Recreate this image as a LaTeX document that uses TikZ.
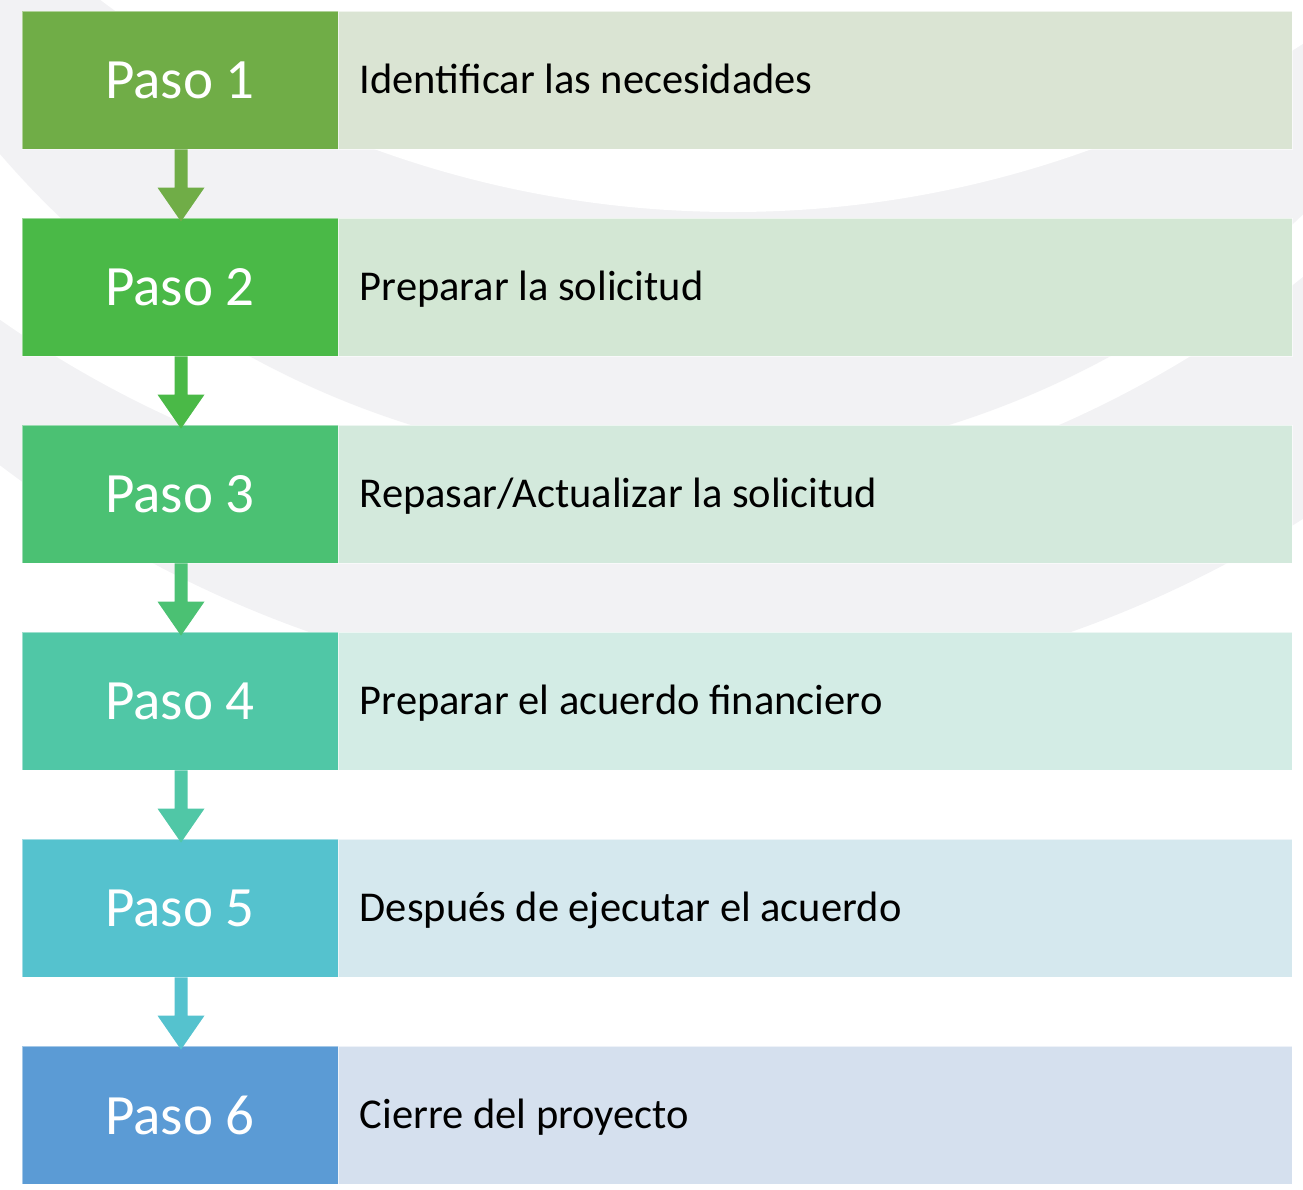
\documentclass[tikz,border=0pt]{standalone}
\usepackage{fontspec}
\setmainfont{Carlito}
\usetikzlibrary{calc}
\definecolor{bggrey}{RGB}{242,242,244}
\definecolor{c1}{RGB}{112,173,71}
\definecolor{c2}{RGB}{74,185,71}
\definecolor{c3}{RGB}{75,193,115}
\definecolor{c4}{RGB}{80,199,166}
\definecolor{c5}{RGB}{85,194,206}
\definecolor{c6}{RGB}{91,155,213}
\definecolor{r1}{RGB}{218,228,211}
\definecolor{r2}{RGB}{211,231,212}
\definecolor{r3}{RGB}{211,233,220}
\definecolor{r4}{RGB}{211,236,229}
\definecolor{r5}{RGB}{213,232,238}
\definecolor{r6}{RGB}{213,224,238}
\tikzset{
  stepbox/.style={rectangle, minimum width=316pt, minimum height=138pt, inner sep=0pt,
    text=white, font=\fontsize{57}{60}\selectfont, draw=white, draw opacity=0.45, line width=0.8pt},
  descbox/.style={rectangle, minimum width=954pt, minimum height=138pt, inner sep=0pt,
    draw=white, draw opacity=0.6, line width=0.8pt},
  desctext/.style={anchor=base west, inner sep=0pt, text=black,
    font=\fontsize{42.5}{46}\selectfont},
}
\begin{document}
\begin{tikzpicture}[x=1pt,y=-1pt]
\useasboundingbox (0,0) rectangle (1303,1189);
% faint watermark background
\begin{scope}
  \clip (0,0) rectangle (1303,1189);
  \fill[bggrey] (690,-446) circle[radius=1143pt];
  \fill[white] (623,-570) circle[radius=1086pt];
  \fill[bggrey] (680,-431) circle[radius=897pt];
  \fill[white] (733,-837) circle[radius=1049pt];
\end{scope}
% boxes
\node[stepbox, fill=c1] (p1) at (180,80) {Paso 1};
\node[descbox, fill=r1] (d1) at (815,80) {};
\node[stepbox, fill=c2] (p2) at (180,287) {Paso 2};
\node[descbox, fill=r2] (d2) at (815,287) {};
\node[stepbox, fill=c3] (p3) at (180,494) {Paso 3};
\node[descbox, fill=r3] (d3) at (815,494) {};
\node[stepbox, fill=c4] (p4) at (180,701) {Paso 4};
\node[descbox, fill=r4] (d4) at (815,701) {};
\node[stepbox, fill=c5] (p5) at (180,908) {Paso 5};
\node[descbox, fill=r5] (d5) at (815,908) {};
\node[stepbox, fill=c6] (p6) at (180,1115) {Paso 6};
\node[descbox, fill=r6] (d6) at (815,1115) {};
% arrows
\foreach \a/\b/\c in {p1/p2/c1, p2/p3/c2, p3/p4/c3, p4/p5/c4, p5/p6/c5}{
  \fill[\c] ($(\a.south)+(-5.5,0)$) -- ($(\a.south)+(7.5,0)$)
    -- ($(\b.north)+(7.5,-30)$) -- ($(\b.north)+(24.5,-30)$)
    -- ($(\b.north)+(1,4)$) -- ($(\b.north)+(-22.5,-30)$)
    -- ($(\b.north)+(-5.5,-30)$) -- cycle;
}
% descriptions
\node[desctext] (t1) at ($(d1.west)+(22,13.5)$) {Identificar las necesidades};
\node[desctext] (t2) at ($(d2.west)+(22,13.5)$) {Preparar la solicitud};
\node[desctext] (t3) at ($(d3.west)+(22,13.5)$) {Repasar/Actualizar la solicitud};
\node[desctext] (t4) at ($(d4.west)+(22,13.5)$) {Preparar el acuerdo financiero};
\node[desctext] (t5) at ($(d5.west)+(22,13.5)$) {Después de ejecutar el acuerdo};
\node[desctext] (t6) at ($(d6.west)+(22,13.5)$) {Cierre del proyecto};
\end{tikzpicture}
\end{document}
